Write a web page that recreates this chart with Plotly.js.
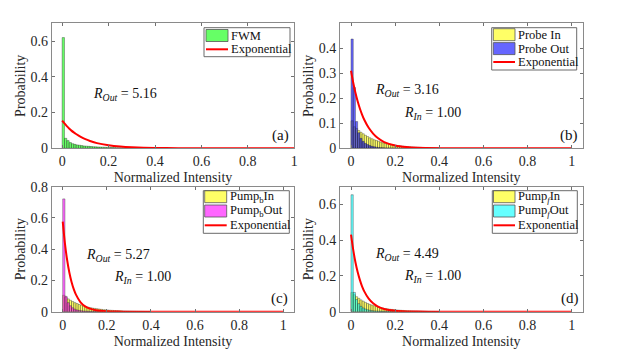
<!DOCTYPE html>
<html><head><meta charset="utf-8">
<script src="https://cdn.plot.ly/plotly-3.0.1.min.js"></script>
<style>html,body{margin:0;padding:0;background:#fff;}#chart{width:623px;height:359px;}</style>
</head><body><div id="chart"></div>
<script>
// ---------- DATA ----------
const binCenters = [0.005,0.015,0.025,0.035,0.045,0.055,0.065,0.075,0.085,0.095,
  0.105,0.115,0.125,0.135,0.145,0.155,0.165,0.175,0.185,0.195,
  0.205,0.215,0.225,0.235,0.245,0.255,0.265,0.275,0.285,0.295,
  0.305,0.315,0.325,0.335,0.345,0.355,0.365,0.375,0.385,0.395];

const fwmOut = [0.620,0.056,0.043,0.032,0.026,0.022,0.019,0.017,0.015,0.013,
  0.012,0.011,0.010,0.009,0.008,0.0075,0.007,0.0065,0.006,0.0055,
  0.005,0.0045,0.004,0.0035,0.003,0.0027,0.0024,0.0021,0.0018,0.0015,
  0.0012,0.001,0.0008,0.0006,0.0005,0.0004,0.0003,0.0002,0.0002,0.0001];

const probeIn = [0.110,0.086,0.079,0.071,0.064,0.058,0.052,0.047,0.042,0.038,
  0.034,0.031,0.028,0.025,0.022,0.020,0.018,0.016,0.0145,0.013,
  0.0117,0.0105,0.0094,0.0085,0.0076,0.0068,0.0061,0.0055,0.0049,0.0044,
  0.004,0.0036,0.0032,0.0029,0.0026,0.0023,0.002,0.0018,0.0016,0.0014];
const probeOut = [0.437,0.243,0.107,0.062,0.040,0.028,0.020,0.015,0.011,0.008,
  0.006,0.0045,0.0035,0.0027,0.002,0.0015,0.0012,0.001,0.0008,0.0006,
  0.0005,0.0004,0.0003,0.0002,0.0002,0.0001,0.0001,0,0,0,
  0,0,0,0,0,0,0,0,0,0];

const pumpBIn = [0.105,0.092,0.082,0.073,0.065,0.058,0.052,0.046,0.041,0.037,
  0.033,0.029,0.026,0.023,0.021,0.019,0.017,0.015,0.013,0.012,
  0.0105,0.0094,0.0084,0.0075,0.0067,0.006,0.0053,0.0047,0.0042,0.0038,
  0.0034,0.003,0.0027,0.0024,0.0021,0.0019,0.0017,0.0015,0.0013,0.0012];
const pumpBOut = [0.722,0.098,0.058,0.038,0.025,0.016,0.011,0.008,0.006,0.004,
  0.003,0.0022,0.0016,0.0012,0.0009,0.0007,0.0005,0.0004,0.0003,0.0002,
  0.0001,0.0001,0,0,0,0,0,0,0,0,
  0,0,0,0,0,0,0,0,0,0];

const pumpFIn = [0.108,0.095,0.084,0.075,0.066,0.059,0.052,0.046,0.041,0.037,
  0.033,0.029,0.026,0.023,0.020,0.018,0.016,0.014,0.0127,0.0113,
  0.010,0.0089,0.0079,0.007,0.0062,0.0055,0.0049,0.0044,0.0039,0.0035,
  0.0031,0.0028,0.0025,0.0022,0.002,0.0018,0.0016,0.0014,0.0012,0.0011];
const pumpFOut = [0.655,0.108,0.068,0.045,0.030,0.021,0.015,0.011,0.008,0.006,
  0.0045,0.0034,0.0026,0.002,0.0015,0.0011,0.0008,0.0006,0.0005,0.0004,
  0.0003,0.0002,0.0001,0.0001,0,0,0,0,0,0,
  0,0,0,0,0,0,0,0,0,0];

const expX = [0,0.01,0.02,0.03,0.04,0.05,0.06,0.08,0.1,0.12,0.15,0.2,0.25,0.3,0.4,0.5,0.6,0.8,1.0];
const expA = [0.155,0.139,0.124,0.111,0.099,0.089,0.080,0.064,0.051,0.041,0.029,0.017,0.0096,0.0055,0.0018,0.0006,0.0002,0,0];
const expB = [0.310,0.262,0.222,0.188,0.159,0.135,0.114,0.082,0.059,0.042,0.025,0.011,0.0048,0.0021,0.0004,0.0001,0,0,0];
const expC = [0.577,0.437,0.331,0.251,0.190,0.144,0.109,0.062,0.036,0.021,0.009,0.0022,0.0006,0.0001,0,0,0,0,0];
const expD = [0.432,0.346,0.277,0.222,0.178,0.142,0.114,0.073,0.047,0.030,0.015,0.005,0.0017,0.0006,0.0001,0,0,0,0];

const xTicks = [0,0.2,0.4,0.6,0.8,1];
const yTicksA = [0,0.2,0.4,0.6];
const yTicksB = [0,0.1,0.2,0.3,0.4];
const yTicksC = [0,0.2,0.4,0.6,0.8];
const yTicksD = [0,0.2,0.4,0.6];

const ratioTexts = {
  a: ['5.16'], b: ['3.16','1.00'], c: ['5.27','1.00'], d: ['4.49','1.00']
};

// ---------- STYLE ----------
const W = 623, H = 359;
const FONT = '"Times New Roman", "Liberation Serif", "DejaVu Serif", serif';
const P = x => x / W;
const Q = y => 1 - y / H;

const COL = {
  green: 'rgba(0,255,0,0.6)', yellow: 'rgba(255,255,0,0.6)', blue: 'rgba(0,0,255,0.6)',
  magenta: 'rgba(255,0,255,0.6)', cyan: 'rgba(0,255,255,0.6)'
};
const EDGE = 'rgba(40,40,40,0.75)';

function bar(y, color, xa, ya) {
  return {type:'bar', x: binCenters, y: y, width: 0.01, xaxis: xa, yaxis: ya,
    marker: {color: color, line: {color: EDGE, width: 0.5}}, showlegend: false, hoverinfo:'skip'};
}
function expLine(y, xa, ya) {
  return {type:'scatter', mode:'lines', x: expX, y: y, xaxis: xa, yaxis: ya,
    line: {color:'#ff0000', width: 2, shape:'spline', smoothing: 0.6}, showlegend:false, hoverinfo:'skip'};
}

const data = [
  bar(fwmOut, COL.green, 'x', 'y'), expLine(expA, 'x', 'y'),
  bar(probeIn, COL.yellow, 'x2', 'y2'), bar(probeOut, COL.blue, 'x2', 'y2'), expLine(expB, 'x2', 'y2'),
  bar(pumpBIn, COL.yellow, 'x3', 'y3'), bar(pumpBOut, COL.magenta, 'x3', 'y3'), expLine(expC, 'x3', 'y3'),
  bar(pumpFIn, COL.yellow, 'x4', 'y4'), bar(pumpFOut, COL.cyan, 'x4', 'y4'), expLine(expD, 'x4', 'y4')
];

// panel pixel boxes
const boxes = {
  a: {x0: 51.7, x1: 294.3, y0: 23.3, y1: 148.3},
  b: {x0: 340, x1: 582.7, y0: 23.3, y1: 148.3},
  c: {x0: 51.7, x1: 294.3, y0: 186.7, y1: 311.7},
  d: {x0: 340, x1: 582.7, y0: 186.7, y1: 311.7}
};

function xax(b, range, anchor) {
  return {domain: [P(b.x0), P(b.x1)], range: range, anchor: anchor,
    tickvals: xTicks, ticktext: xTicks.map(String),
    showline: true, mirror: 'ticks', linecolor: '#8a8a8a', linewidth: 1,
    ticks: 'inside', ticklen: 3, tickcolor: '#707070', showgrid: false, zeroline: false,
    tickfont: {family: FONT, size: 14, color: '#262626'},
    title: {text: 'Normalized Intensity', font: {family: FONT, size: 14, color: '#262626'}, standoff: 4}};
}
function yax(b, range, ticks, anchor) {
  return {domain: [Q(b.y1), Q(b.y0)], range: range, anchor: anchor,
    tickvals: ticks, ticktext: ticks.map(String),
    showline: true, mirror: 'ticks', linecolor: '#8a8a8a', linewidth: 1,
    ticks: 'inside', ticklen: 3, tickcolor: '#707070', showgrid: false, zeroline: false,
    tickfont: {family: FONT, size: 14, color: '#262626'},
    title: {text: 'Probability', font: {family: FONT, size: 14, color: '#262626'}, standoff: 1}};
}

const shapes = [];
const annotations = [];

function legend(box, rows, swX0, swX1, textX) {
  shapes.push({type:'rect', xref:'paper', yref:'paper', x0:P(box[0]), x1:P(box[2]), y0:Q(box[3]), y1:Q(box[1]),
    line:{color:'#6a6a6a', width:1}, fillcolor:'#ffffff', layer:'above'});
  rows.forEach(r => {
    if (r.type === 'bar') {
      shapes.push({type:'rect', xref:'paper', yref:'paper', x0:P(swX0), x1:P(swX1), y0:Q(r.yc + 6), y1:Q(r.yc - 6),
        line:{color:'#555', width:0.8}, fillcolor:r.color, layer:'above'});
    } else {
      shapes.push({type:'line', xref:'paper', yref:'paper', x0:P(swX0), x1:P(swX1), y0:Q(r.yc), y1:Q(r.yc),
        line:{color:'#ff0000', width:2}, layer:'above'});
    }
    annotations.push({xref:'paper', yref:'paper', x:P(textX), y:Q(r.yc), xanchor:'left', yanchor:'middle',
      text:r.text, showarrow:false, font:{family:FONT, size:12.5, color:'#111'}});
  });
}

legend([204, 27.7, 290, 56.7], [
  {type:'bar', color:COL.green, text:'FWM', yc:35.5},
  {type:'line', text:'Exponential', yc:49.3}], 206, 228, 228.5);
legend([491.7, 27.7, 576.7, 70], [
  {type:'bar', color:COL.yellow, text:'Probe In', yc:34.7},
  {type:'bar', color:COL.blue, text:'Probe Out', yc:48.6},
  {type:'line', text:'Exponential', yc:62}], 493.3, 515, 516);
legend([203.3, 190.7, 289.3, 233.3], [
  {type:'bar', color:COL.yellow, text:'Pump<sub>b</sub>In', yc:196.7},
  {type:'bar', color:COL.magenta, text:'Pump<sub>b</sub>Out', yc:211},
  {type:'line', text:'Exponential', yc:225.3}], 204.7, 226.7, 227.5);
legend([492.3, 190.7, 577.3, 233.3], [
  {type:'bar', color:COL.yellow, text:'Pump<sub><i>f</i></sub>In', yc:196.7},
  {type:'bar', color:COL.cyan, text:'Pump<sub><i>f</i></sub>Out', yc:211},
  {type:'line', text:'Exponential', yc:225.3}], 493.5, 515, 516);

function note(x, y, text, size) {
  annotations.push({xref:'paper', yref:'paper', x:P(x), y:Q(y), xanchor:'left', yanchor:'middle',
    text:text, showarrow:false, font:{family:FONT, size:size || 14, color:'#111'}});
}
const rOut = v => '<i>R</i><sub><i>Out</i></sub> = ' + v;
const rIn = v => '<i>R</i><sub><i>In</i></sub> = ' + v;
note(91, 94, rOut(ratioTexts.a[0]));
note(373, 91, rOut(ratioTexts.b[0])); note(401.5, 113, rIn(ratioTexts.b[1]));
note(84, 255, rOut(ratioTexts.c[0])); note(112, 277, rIn(ratioTexts.c[1]));
note(373, 254.5, rOut(ratioTexts.d[0])); note(401.5, 276.5, rIn(ratioTexts.d[1]));
note(270, 135, '(a)', 15); note(558, 135, '(b)', 15);
note(269, 298.5, '(c)', 15); note(559, 298.5, '(d)', 15);

const layout = {
  width: W, height: H, margin: {l:0, r:0, t:0, b:0},
  paper_bgcolor: '#ffffff', plot_bgcolor: '#ffffff',
  barmode: 'overlay', showlegend: false,
  font: {family: FONT, size: 14, color: '#262626'},
  xaxis: xax(boxes.a, [-0.045, 1.0], 'y'),
  yaxis: yax(boxes.a, [0, 0.7], yTicksA, 'x'),
  xaxis2: xax(boxes.b, [-0.05, 1.05], 'y2'),
  yaxis2: yax(boxes.b, [0, 0.5], yTicksB, 'x2'),
  xaxis3: xax(boxes.c, [-0.05, 1.05], 'y3'),
  yaxis3: yax(boxes.c, [0, 0.8], yTicksC, 'x3'),
  xaxis4: xax(boxes.d, [-0.05, 1.05], 'y4'),
  yaxis4: yax(boxes.d, [0, 0.7], yTicksD, 'x4'),
  shapes: shapes, annotations: annotations
};

Plotly.newPlot('chart', data, layout, {staticPlot: true, displayModeBar: false});
</script></body></html>
